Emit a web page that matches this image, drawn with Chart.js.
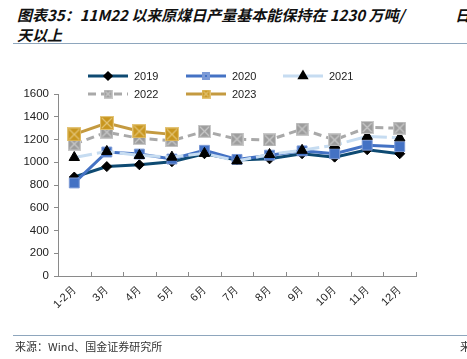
<!DOCTYPE html>
<html>
<head>
<meta charset="utf-8">
<script src="https://cdn.jsdelivr.net/npm/chart.js@4"></script>
<style>
  html, body { margin: 0; padding: 0; background: #fff; }
  body { width: 467px; height: 359px; position: relative; overflow: hidden; font-family: "Noto Sans CJK SC", sans-serif; }
  .title { position: absolute; left: 17px; font-size: 15px; font-weight: bold; font-style: italic; color: #111; white-space: nowrap; line-height: 20px; }
  .rule { position: absolute; left: 13px; right: 0; height: 1px; background: #8ea6bd; }
  .source { position: absolute; left: 15px; top: 338px; font-size: 11px; color: #333; white-space: nowrap; }
  #wrap { position: absolute; left: 0; top: 52px; width: 467px; height: 286px; }
</style>
</head>
<body>
<div class="title" style="top:5px">图表35：11M22 以来原煤日产量基本能保持在 1230 万吨/</div>
<div class="title" style="top:5px; left:455px">日</div>
<div class="title" style="top:25px">天以上</div>
<div class="rule" style="top:43px"></div>
<div id="wrap"><canvas id="c"></canvas></div>
<div class="rule" style="top:335px"></div>
<div class="source">来源：Wind、国金证券研究所</div>
<div class="source" style="left:460px">来</div>
<script>
const months = ['1-2月', '3月', '4月', '5月', '6月', '7月', '8月', '9月', '10月', '11月', '12月'];
const y2019 = [870, 962, 978, 1005, 1075, 1020, 1030, 1075, 1045, 1110, 1075];
const y2020 = [818, 1090, 1072, 1028, 1105, 1025, 1062, 1100, 1075, 1150, 1137];
const y2021 = [1042, 1095, 1060, 1045, 1078, 1012, 1068, 1105, 1150, 1228, 1215];
const y2022 = [1160, 1265, 1210, 1190, 1272, 1203, 1196, 1292, 1196, 1306, 1300];
const y2023 = [1245, 1345, 1272, 1245];
const yTicks = [0, 200, 400, 600, 800, 1000, 1200, 1400, 1600];

// square marker with a cross, like the Excel one
function crossBox(fill, line, size) {
    const cv = document.createElement('canvas');
    cv.width = size; cv.height = size;
    const g = cv.getContext('2d');
    g.fillStyle = fill;
    g.fillRect(0, 0, size, size);
    g.strokeStyle = line;
    g.lineWidth = 1.2;
    g.beginPath();
    g.moveTo(2, 2); g.lineTo(size - 2, size - 2);
    g.moveTo(size - 2, 2); g.lineTo(2, size - 2);
    g.stroke();
    g.strokeRect(0.5, 0.5, size - 1, size - 1);
    return cv;
}

const greyBox = crossBox('#9c9c9c', '#c9c9c9', 13);
const goldBox = crossBox('#c8961e', '#e3c477', 14);
const legendMarks = [
    { style: 'rectRot', r: 3 },
    { style: 'rect', r: 3.5 },
    { style: 'triangle', r: 3.5 },
    { style: crossBox('#9c9c9c', '#c9c9c9', 9), r: 4 },
    { style: crossBox('#c8961e', '#e3c477', 9), r: 4 }
];

const legendPos = [[88, 24], [186, 24], [283, 24], [88, 42], [186, 42]];

const customLegend = {
    id: 'customLegend',
    afterDraw(chart) {
        const ctx = chart.ctx;
        chart.data.datasets.forEach((ds, i) => {
            const [x, y] = legendPos[i];
            ctx.save();
            ctx.strokeStyle = ds.borderColor;
            ctx.lineWidth = ds.borderWidth;
            ctx.setLineDash(ds.borderDash || []);
            ctx.beginPath();
            ctx.moveTo(x, y);
            ctx.lineTo(x + 40, y);
            ctx.stroke();
            ctx.setLineDash([]);
            ctx.fillStyle = ds.pointBackgroundColor;
            ctx.strokeStyle = ds.pointBorderColor;
            Chart.helpers.drawPoint(ctx, {
                pointStyle: legendMarks[i].style,
                radius: legendMarks[i].r,
                borderWidth: 1,
                rotation: 0
            }, x + 20, y);
            ctx.fillStyle = '#222';
            ctx.font = '11px "Liberation Sans", Arial, sans-serif';
            ctx.textBaseline = 'middle';
            ctx.fillText(ds.label, x + 46, y + 1);
            ctx.restore();
        });
    }
};

// x axis tick marks point inward
const innerTicks = {
    id: 'innerTicks',
    afterDraw(chart) {
        const xs = chart.scales.x;
        const ctx = chart.ctx;
        ctx.save();
        ctx.strokeStyle = '#8a8a8a';
        ctx.lineWidth = 1;
        ctx.beginPath();
        for (let i = 0; i <= months.length; i++) {
            const px = Math.round(xs.getPixelForValue(i - 0.5)) + 0.5;
            ctx.moveTo(px, xs.top);
            ctx.lineTo(px, xs.top - 4);
        }
        ctx.stroke();
        ctx.restore();
    }
};

new Chart(document.getElementById('c'), {
    type: 'line',
    data: {
        labels: months,
        datasets: [
            {
                label: '2019', data: y2019, order: 4,
                borderColor: '#0e4a72', borderWidth: 3,
                pointStyle: 'rectRot', pointRadius: 5,
                pointBackgroundColor: '#000', pointBorderColor: '#000', pointBorderWidth: 1
            },
            {
                label: '2020', data: y2020, order: 3,
                borderColor: '#4472c4', borderWidth: 3,
                pointStyle: 'rect', pointRadius: 7,
                pointBackgroundColor: '#4472c4', pointBorderColor: '#7c9ad6', pointBorderWidth: 1
            },
            {
                label: '2021', data: y2021, order: 2,
                borderColor: '#c6dcf1', borderWidth: 3, borderDash: [18, 5],
                pointStyle: 'triangle', pointRadius: 6,
                pointBackgroundColor: '#000', pointBorderColor: '#000', pointBorderWidth: 1
            },
            {
                label: '2022', data: y2022, order: 1,
                borderColor: '#a9a9a9', borderWidth: 3, borderDash: [8, 5],
                pointStyle: greyBox, pointRadius: 7,
                pointBackgroundColor: '#9c9c9c', pointBorderColor: '#9c9c9c', pointBorderWidth: 0
            },
            {
                label: '2023', data: y2023, order: 0,
                borderColor: '#c49a40', borderWidth: 3,
                pointStyle: goldBox, pointRadius: 7,
                pointBackgroundColor: '#c8961e', pointBorderColor: '#c8961e', pointBorderWidth: 0
            }
        ]
    },
    options: {
        responsive: true,
        maintainAspectRatio: false,
        animation: false,
        layout: { padding: { top: 42, right: 51, left: 0, bottom: 0 } },
        plugins: { legend: { display: false }, tooltip: { enabled: false } },
        scales: {
            x: {
                offset: true,
                grid: { drawOnChartArea: false, drawTicks: false },
                border: { color: '#8a8a8a', width: 1 },
                ticks: {
                    color: '#222', padding: 7,
                    minRotation: 45, maxRotation: 45,
                    font: { family: '"Liberation Sans", Arial, sans-serif', size: 11 }
                },
                afterFit: s => { s.height = 62; }
            },
            y: {
                min: 0, max: 1600,
                afterBuildTicks: s => { s.ticks = yTicks.map(v => ({ value: v })); },
                grid: { drawOnChartArea: false, drawTicks: true, tickLength: 4, color: '#8a8a8a' },
                border: { color: '#8a8a8a', width: 1 },
                ticks: {
                    color: '#222', padding: 5,
                    callback: v => String(v),
                    font: { family: '"Liberation Sans", Arial, sans-serif', size: 11.5 }
                },
                afterFit: s => { s.width = 58; }
            }
        }
    },
    plugins: [customLegend, innerTicks]
});
</script>
</body>
</html>
